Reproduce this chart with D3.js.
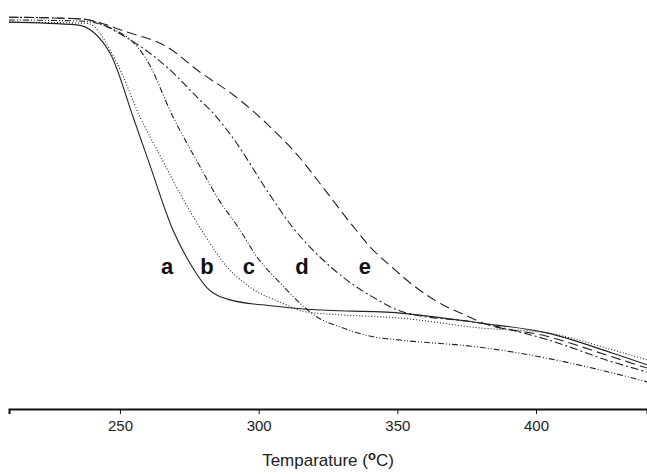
<!DOCTYPE html>
<html>
<head>
<meta charset="utf-8">
<script src="https://cdn.jsdelivr.net/npm/d3@7"></script>
<style>
  body { margin: 0; background: #fff; }
  text { font-family: Arial, "Liberation Sans", sans-serif; }
</style>
</head>
<body>
<script>
// temperature (C) and residual weight (%)
var tempA = [210, 234.5, 246.4, 254.7, 260.8, 269.1, 275.2, 281.4, 289.7, 305.2, 317.4, 351, 379.8, 403.9, 427.7, 440];
var weightA = [98.7, 98.2, 93.1, 81.5, 72.7, 60.9, 54.9, 50.4, 48.2, 47.1, 46.5, 45.8, 44.0, 42.2, 38.5, 36.4];

var tempB = [210, 238.1, 248.9, 257.2, 264.4, 271.6, 279.9, 288.6, 296.9, 307.7, 317.4, 329.3, 351, 379.8, 403.9, 427.7, 440];
var weightB = [98.7, 98.5, 91.3, 81.5, 74.5, 67.6, 60.5, 54.2, 50.5, 47.8, 46.0, 45.5, 44.9, 43.1, 42.2, 39.1, 37.3];

var tempC = [210, 235.6, 252.5, 259.7, 269.1, 278.9, 285, 293.3, 299.4, 307.7, 314.9, 321, 329.3, 341.2, 351, 379.8, 403.9, 427.7, 440];
var weightC = [99.1, 98.9, 96.0, 91.8, 81.5, 72.4, 66.9, 60.9, 56.0, 51.3, 47.6, 45.1, 43.3, 41.5, 40.9, 39.6, 37.6, 34.9, 33.3];

var tempD = [210, 235.6, 253.6, 267, 278.9, 283.5, 290.8, 303, 312.4, 322.1, 331.8, 341.2, 351, 353.5, 379.8, 403.9, 427.7, 440];
var weightD = [99.6, 99.3, 95.5, 90.5, 84.5, 82.2, 77.6, 68.1, 61.3, 56.0, 51.8, 48.7, 46.2, 45.8, 44.0, 41.0, 36.9, 35.1];

var tempE = [210, 235.6, 252.5, 267, 278.9, 290.8, 303, 314.9, 323.9, 334, 341.2, 348.4, 355.6, 367.9, 375.1, 379.8, 403.9, 427.7, 440];
var weightE = [99.6, 99.3, 96.9, 94.2, 89.6, 85.5, 80.2, 74.0, 68.2, 61.6, 57.3, 54.0, 50.9, 46.9, 45.3, 44.2, 41.6, 37.8, 35.8];

var curveNames = ["a", "b", "c", "d", "e"];
var labelTemps = [267.0, 281.4, 296.5, 315.6, 338.3];
var labelWeight = 53;
var xTicks = [250, 300, 350, 400];

var w = 647;
var h = 474;

var x_scale = d3.scaleLinear()
  .domain([210, 440])
  .range([9, 647]);

var y_scale = d3.scaleLinear()
  .domain([0, 100])
  .range([565, 15]);

var svg = d3.select("body")
  .append("svg")
  .attr("width", w)
  .attr("height", h);

var series = [
  {name: "a", t: tempA, v: weightA, dash: null},
  {name: "b", t: tempB, v: weightB, dash: "1,2"},
  {name: "c", t: tempC, v: weightC, dash: "6,2,1,2,1,2"},
  {name: "d", t: tempD, v: weightD, dash: "8,3,2,3"},
  {name: "e", t: tempE, v: weightE, dash: "10,5"}
];

var line = d3.line()
  .x(function(d) { return x_scale(d[0]); })
  .y(function(d) { return y_scale(d[1]); })
  .curve(d3.curveMonotoneX);

svg.selectAll(".curve")
  .data(series)
  .enter()
  .append("path")
  .classed("curve", true)
  .attr("d", function(s) {
    return line(d3.zip(s.t, s.v));
  })
  .attr("fill", "none")
  .attr("stroke", "#222")
  .attr("stroke-width", 1.1)
  .attr("stroke-dasharray", function(s) { return s.dash; });

svg.selectAll(".lab")
  .data(curveNames)
  .enter()
  .append("text")
  .classed("lab", true)
  .attr("x", function(d, i) { return x_scale(labelTemps[i]); })
  .attr("y", y_scale(labelWeight))
  .attr("text-anchor", "middle")
  .attr("font-size", 22)
  .attr("font-weight", "bold")
  .attr("fill", "#111")
  .text(function(d) { return d; });

var x_axis = d3.axisBottom(x_scale)
  .tickValues(xTicks)
  .tickSize(5)
  .tickPadding(6)
  .tickFormat(function(d) { return d; });

var gx = svg.append("g")
  .attr("transform", "translate(0,409)")
  .call(x_axis);

gx.select(".domain")
  .attr("stroke", "#111")
  .attr("stroke-width", 2);
gx.selectAll(".tick line").attr("stroke", "#111");
gx.selectAll(".tick text")
  .attr("font-size", 15)
  .attr("font-family", "Arial, 'Liberation Sans', sans-serif")
  .attr("fill", "#222");

var title = svg.append("text")
  .attr("x", x_scale(325))
  .attr("y", 466)
  .attr("text-anchor", "middle")
  .attr("font-size", 17)
  .attr("fill", "#222");
title.append("tspan").text("Temparature (");
title.append("tspan")
  .attr("dy", -6)
  .attr("font-size", 13)
  .attr("font-weight", "bold")
  .text("o");
title.append("tspan").attr("dy", 6).text("C)");
</script>
</body>
</html>
